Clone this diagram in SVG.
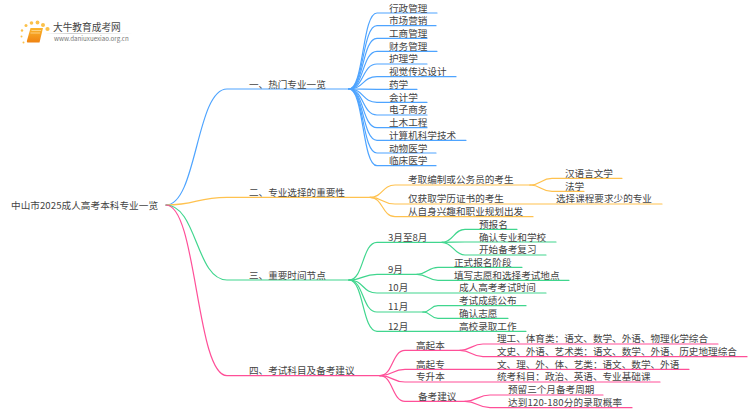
<svg xmlns="http://www.w3.org/2000/svg" width="750" height="410" viewBox="0 0 750 410">
<style>
text{font-family:"Noto Sans CJK SC","Liberation Sans",sans-serif;font-size:9.6px;fill:#444}
.c{fill:none;stroke-width:1.2;stroke-linecap:round}
.b{stroke:#4ea4ff}.o{stroke:#ffc24f}.g{stroke:#40d68e}.p{stroke:#ff4f98}
.dot{fill:#fbc14a}
</style>
<defs><linearGradient id="fade"><stop offset="0" stop-color="#ccc" stop-opacity="0"/><stop offset=".3" stop-color="#ccc"/><stop offset="1" stop-color="#ccc" stop-opacity="0"/></linearGradient>
<linearGradient id="bk" x1="0" y1="0" x2="0" y2="1"><stop offset="0" stop-color="#fbb52c"/><stop offset="1" stop-color="#ef8312"/></linearGradient></defs>
<rect width="750" height="410" fill="#fff"/>
<g id="logo">
<circle class="dot" cx="22" cy="30.5" r="1.2"/><circle class="dot" cx="26" cy="25.5" r="1.5"/><circle class="dot" cx="31.500" cy="23" r="1.800"/><circle class="dot" cx="37.500" cy="22.500" r="1.900"/><circle class="dot" cx="43" cy="25" r="2"/><circle class="dot" cx="47.500" cy="29" r="2.100"/><circle class="dot" cx="21.500" cy="36.500" r="1"/><circle class="dot" cx="23.500" cy="42.500" r="1"/>
<path d="M30.500 28H43L39.500 42.500H27.500Q26.500 42.500 27 40.500Z" fill="url(#bk)"/><path d="M31.500 30.500H41M30.500 33H40" stroke="#ffe3a8" stroke-width=".7" fill="none"/>
<rect x="45" y="33" width="88" height="1" fill="url(#fade)"/>
<text x="53" y="31" style="font-size:9.7px;fill:#444">大牛教育成考网</text>
<text x="54" y="41" style="font-size:6.2px;fill:#777">www.daniuxuexiao.org.cn</text>
</g>
<g id="connectors">
<path class="c b" d="M166 205C197 205 196 89 227 89H349"/>
<path class="c b" d="M349 89C364 89 362 13 377 13H437"/><path class="c b" d="M349 89C364 89 362 25.700 377 25.700H436"/><path class="c b" d="M349 89C364 89 362 38.300 377 38.300H427"/><path class="c b" d="M349 89C364 89 362 51.300 377 51.300H437"/><path class="c b" d="M349 89C364 89 362 64 377 64H427"/><path class="c b" d="M349 89C364 89 362 76.700 377 76.700H456"/><path class="c b" d="M349 89C364 89 362 89.300 377 89.300H417"/><path class="c b" d="M349 89C364 89 362 102.300 377 102.300H427"/><path class="c b" d="M349 89C364 89 362 115 377 115H427"/><path class="c b" d="M349 89C364 89 362 127.700 377 127.700H427"/><path class="c b" d="M349 89C364 89 362 140.300 377 140.300H466"/><path class="c b" d="M349 89C364 89 362 153 377 153H436"/><path class="c b" d="M349 89C364 89 362 165.700 377 165.700H436"/>
<path class="c o" d="M166 205C197 205 196 197.300 227 197.300H370"/>
<path class="c o" d="M370 197.300C383 197.300 382 185 395 185H530"/><path class="c o" d="M530 185C541 185 541 178.300 552 178.300H622"/><path class="c o" d="M530 185C541 185 541 191.300 552 191.300H584"/><path class="c o" d="M370 197.300C383 197.300 382 204 395 204H662"/><path class="c o" d="M370 197.300C383 197.300 382 216.700 395 216.700H533"/>
<path class="c g" d="M166 205C197 205 196 280 227 280H349"/>
<path class="c g" d="M349 280C364 280 362 242.300 377 242.300H442"/><path class="c g" d="M442 242.300C453 242.300 454 229.300 465 229.300H517"/><path class="c g" d="M442 242.300C453 242.300 454 242 465 242H556"/><path class="c g" d="M442 242.300C453 242.300 454 255 465 255H546"/>
<path class="c g" d="M349 280C364 280 362 274.300 377 274.300H417"/><path class="c g" d="M417 274.300C427 274.300 428 267.300 438 267.300H522"/><path class="c g" d="M417 274.300C427 274.300 428 280.300 438 280.300H569"/>
<path class="c g" d="M349 280C364 280 362 293 377 293H546"/>
<path class="c g" d="M349 280C364 280 362 312 377 312H423"/><path class="c g" d="M423 312C431 312 430 305.700 438 305.700H526"/><path class="c g" d="M423 312C431 312 430 318.300 438 318.300H508"/>
<path class="c g" d="M349 280C364 280 362 331.300 377 331.300H526"/>
<path class="c p" d="M166 205C197 205 196 375.700 227 375.700H380"/>
<path class="c p" d="M380 375.700C393 375.700 392 350.300 405 350.300H460"/><path class="c p" d="M460 350.300C471 350.300 472 344 483 344H718"/><path class="c p" d="M460 350.300C471 350.300 472 356.700 483 356.700H747"/>
<path class="c p" d="M380 375.700C393 375.700 392 369.300 405 369.300H689"/><path class="c p" d="M380 375.700C393 375.700 392 382 405 382H660"/>
<path class="c p" d="M380 375.700C393 375.700 392 401.300 405 401.300H465"/><path class="c p" d="M465 401.300C477 401.300 478 395 490 395H603"/><path class="c p" d="M465 401.300C477 401.300 478 407.700 490 407.700H632"/>
</g>
<g id="root"><text x="11" y="208.500" textLength="147">中山市2025成人高考本科专业一览</text></g>
<g id="b1"><text x="249" y="88">一、热门专业一览</text></g>
<g id="b1-leaves">
<text x="389" y="11.500">行政管理</text><text x="389" y="24">市场营销</text><text x="389" y="37">工商管理</text><text x="389" y="49.500">财务管理</text><text x="389" y="62">护理学</text><text x="389" y="75">视觉传达设计</text><text x="389" y="87.500">药学</text><text x="389" y="100.500">会计学</text><text x="389" y="113">电子商务</text><text x="389" y="126">土木工程</text><text x="389" y="138.500">计算机科学技术</text><text x="389" y="151.500">动物医学</text><text x="389" y="164">临床医学</text>
</g>
<g id="b2"><text x="249" y="195.500">二、专业选择的重要性</text>
<text x="408" y="183">考取编制或公务员的考生</text><text x="565" y="176.500">汉语言文学</text><text x="565" y="189.500">法学</text>
<text x="408" y="202">仅获取学历证书的考生</text><text x="556" y="202">选择课程要求少的专业</text><text x="408" y="215">从自身兴趣和职业规划出发</text></g>
<g id="b3"><text x="249" y="278.500">三、重要时间节点</text>
<text x="388" y="240.500">3月至8月</text><text x="479" y="227.500">预报名</text><text x="479" y="240.500">确认专业和学校</text><text x="479" y="253">开始备考复习</text>
<text x="388" y="272.500">9月</text><text x="454" y="265.500">正式报名阶段</text><text x="454" y="278.500">填写志愿和选择考试地点</text>
<text x="388" y="291">10月</text><text x="459" y="291">成人高考考试时间</text>
<text x="388" y="310">11月</text><text x="459" y="304">考试成绩公布</text><text x="459" y="316.500">确认志愿</text>
<text x="388" y="329.500">12月</text><text x="459" y="329.500">高校录取工作</text></g>
<g id="b4"><text x="249" y="374">四、考试科目及备考建议</text>
<text x="416" y="348.500">高起本</text><text x="497" y="342">理工、体育类：语文、数学、外语、物理化学综合</text><text x="497" y="355">文史、外语、艺术类：语文、数学、外语、历史地理综合</text>
<text x="416" y="367.500">高起专</text><text x="497" y="367.500">文、理、外、体、艺类：语文、数学、外语</text>
<text x="416" y="380">专升本</text><text x="497" y="380">统考科目：政治、英语、专业基础课</text>
<text x="418" y="399.500">备考建议</text><text x="508" y="393">预留三个月备考周期</text><text x="508" y="406" textLength="114">达到120-180分的录取概率</text></g>
</svg>
